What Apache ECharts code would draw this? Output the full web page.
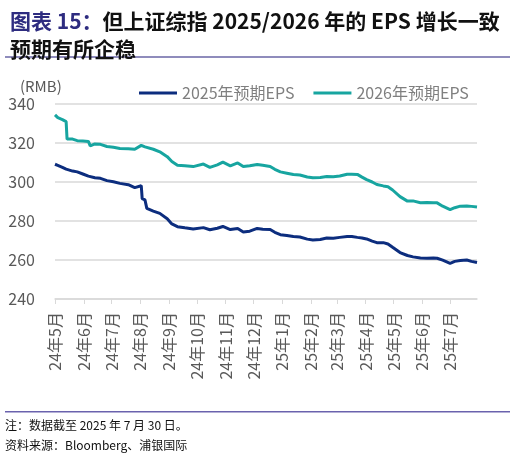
<!DOCTYPE html>
<html>
<head>
<meta charset="utf-8">
<script src="https://cdn.jsdelivr.net/npm/echarts@6/dist/echarts.min.js"></script>
<style>
  html, body { margin: 0; padding: 0; background: #fff; }
  #chart { width: 516px; height: 460px; }
</style>
</head>
<body>
<div id="chart"></div>
<script>
// readings, one date per point
const sampleDates = [
  '2024-05-01','2024-05-04','2024-05-09','2024-05-13','2024-05-14','2024-05-20','2024-05-25','2024-05-31',
  '2024-06-06','2024-06-08','2024-06-13','2024-06-19','2024-06-26','2024-07-03','2024-07-10','2024-07-19',
  '2024-07-26','2024-08-02','2024-08-03','2024-08-06','2024-08-08','2024-08-15','2024-08-22','2024-08-30',
  '2024-09-04','2024-09-10','2024-09-18','2024-09-27','2024-10-08','2024-10-15','2024-10-23','2024-10-29',
  '2024-11-06','2024-11-14','2024-11-20','2024-11-27','2024-12-05','2024-12-11','2024-12-19','2024-12-24',
  '2024-12-30','2025-01-06','2025-01-13','2025-01-20','2025-01-28','2025-02-03','2025-02-11','2025-02-18',
  '2025-02-25','2025-03-04','2025-03-12','2025-03-17','2025-03-23','2025-03-28','2025-04-02','2025-04-08',
  '2025-04-13','2025-04-20','2025-04-25','2025-04-30','2025-05-08','2025-05-16','2025-05-22','2025-05-30',
  '2025-06-06','2025-06-13','2025-06-17','2025-06-23','2025-07-01','2025-07-06','2025-07-12','2025-07-19',
  '2025-07-24','2025-07-30'
];
const eps2025 = [
  309.1, 308.5, 307.5, 306.6, 306.4, 305.6, 305.2, 304.1,
  303.0, 302.2, 302.2, 301.9, 300.7, 300.1, 299.3, 298.6,
  297.1, 298.1, 291.5, 290.8, 286.5, 285.1, 283.9, 281.2,
  278.5, 277.1, 276.5, 275.9, 276.6, 275.5, 276.3, 277.2,
  275.6, 276.2, 274.4, 274.8, 276.2, 275.8, 275.6, 274.2,
  273.0, 272.6, 272.0, 271.8, 270.7, 270.3, 270.5, 271.3,
  271.2, 271.6, 272.0, 272.1, 271.6, 271.3, 270.8, 269.7,
  268.9, 268.9, 268.2, 266.5, 263.8, 262.3, 261.6, 261.0,
  260.9, 261.0, 260.9, 259.9, 258.3, 259.3, 259.7, 260.0,
  259.3, 258.7
];
const eps2026 = [
  334.4, 333.0, 332.0, 331.0, 322.0, 322.0, 321.2, 321.0,
  320.8, 318.5, 319.5, 319.3, 318.2, 317.8, 317.2, 317.0,
  316.8, 318.8, 318.6, 318.0, 317.7, 316.8, 315.5, 313.0,
  310.5, 308.6, 308.3, 307.9, 309.2, 307.5, 308.8, 310.2,
  308.3, 309.8, 307.9, 308.3, 309.0, 308.6, 308.0, 306.5,
  305.2, 304.5, 303.8, 303.6, 302.6, 302.2, 302.3, 302.8,
  302.7, 303.1, 304.0, 304.0, 303.9, 302.5, 301.2, 300.0,
  298.7, 298.0, 297.6, 295.9, 292.5, 290.2, 290.3, 289.4,
  289.5, 289.4, 289.3, 287.6, 285.8, 286.8, 287.6, 287.7,
  287.5, 287.2
];
const yTicks = [240, 260, 280, 300, 320, 340];

// every calendar day on the axis, labels only on the 1st of a month
const days = [];
for (let t = Date.UTC(2024, 4, 1); t <= Date.UTC(2025, 6, 30); t += 86400000) {
  days.push(new Date(t).toISOString().slice(0, 10));
}
const isMonthStart = (i, v) => v.slice(8) === '01';

const font = '"Noto Sans CJK SC", "Noto Sans", sans-serif';
const chart = echarts.init(document.getElementById('chart'));

chart.setOption({
  animation: false,
  backgroundColor: '#fff',
  title: {
    left: 5, top: 2,
    text: '{a|图表 15：}但上证综指 2025/2026 年的 EPS 增长一致\n预期有所企稳',
    textStyle: {
      fontFamily: font, fontSize: 21, fontWeight: 'bold', color: '#111', lineHeight: 28,
      rich: { a: { fontFamily: font, fontSize: 21, fontWeight: 'bold', color: '#2e2c80', lineHeight: 28 } }
    }
  },
  legend: {
    left: 134, top: 80,
    itemWidth: 38, itemHeight: 3, itemGap: 19,
    icon: 'rect',
    textStyle: { fontFamily: font, fontSize: 16, color: '#7f7f7f', padding: [0, 0, 0, 0] },
    data: ['2025年预期EPS', '2026年预期EPS']
  },
  grid: { left: 55, right: 39, top: 104, bottom: 161 },
  xAxis: {
    type: 'category',
    data: days,
    boundaryGap: false,
    axisLine: { lineStyle: { color: '#d9d9d9', width: 1.5 } },
    axisTick: { interval: isMonthStart, length: 5, lineStyle: { color: '#d9d9d9' } },
    axisLabel: {
      interval: isMonthStart,
      rotate: 90,
      margin: 13,
      fontFamily: font, fontSize: 16, color: '#595959',
      formatter: v => v.slice(2, 4) + '年' + parseInt(v.slice(5, 7), 10) + '月'
    },
    splitLine: { show: false }
  },
  yAxis: {
    type: 'value',
    min: yTicks[0], max: yTicks[yTicks.length - 1], interval: 20,
    axisLine: { show: false },
    axisTick: { show: false },
    axisLabel: { margin: 20, fontFamily: font, fontSize: 16, color: '#595959' },
    splitLine: { lineStyle: { color: '#d9d9d9', width: 1.5 } }
  },
  series: [
    {
      name: '2025年预期EPS', type: 'line', symbol: 'none', connectNulls: true,
      color: '#0c2d7e',
      lineStyle: { width: 3, color: '#0c2d7e' },
      data: sampleDates.map((d, i) => [d, eps2025[i]])
    },
    {
      name: '2026年预期EPS', type: 'line', symbol: 'none', connectNulls: true,
      color: '#17a5a0',
      lineStyle: { width: 3, color: '#17a5a0' },
      data: sampleDates.map((d, i) => [d, eps2026[i]])
    }
  ],
  graphic: [
    { type: 'rect', shape: { x: 5, y: 56, width: 505, height: 2 }, style: { fill: '#8f8cbc' } },
    { type: 'text', left: 20, top: 79, style: { text: '(RMB)', font: '15px ' + font, fill: '#595959' } },
    { type: 'rect', shape: { x: 5, y: 411, width: 505, height: 1.5 }, style: { fill: '#6a62ad' } },
    { type: 'text', left: 5, top: 419, style: { text: '注：数据截至 2025 年 7 月 30 日。', font: '12px ' + font, fill: '#111' } },
    { type: 'text', left: 5, top: 439, style: { text: '资料来源：Bloomberg、浦银国际', font: '12px ' + font, fill: '#111' } }
  ]
});
</script>
</body>
</html>
